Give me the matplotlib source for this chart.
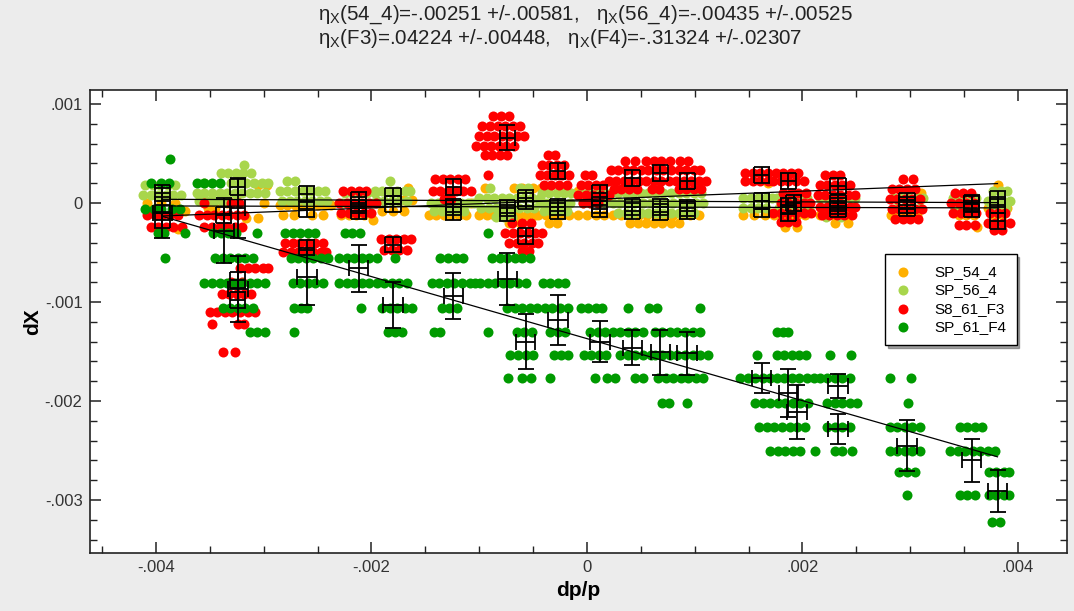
import numpy as np
import matplotlib
matplotlib.use("Agg")
import matplotlib.pyplot as plt
from matplotlib.ticker import MultipleLocator, FuncFormatter

plt.rcParams['font.family'] = ['Liberation Sans', 'DejaVu Sans']
plt.rcParams['mathtext.fontset'] = 'custom'
plt.rcParams['mathtext.rm'] = 'Liberation Sans'
plt.rcParams['mathtext.it'] = 'Liberation Sans:italic'

UNIT = 1e-3  # all values below are given in units of 1e-3 (dp/p and dX)

series_names = ['SP_54_4', 'SP_56_4', 'S8_61_F3', 'SP_61_F4']
series_colors = ['#FFB000', '#A8D64C', '#FF0000', '#009A00']

# scatter points, grouped in rows: (dX, [dp/p, ...])
sp54_rows = [
    (0.20, [1.68]),
    (0.18, [-3.05, -2.97, 3.81]),
    (0.15, [-1.66, -0.95, -0.68, -0.60, -0.50, -0.43, -0.20]),
    (0.12, [-0.08]),
    (0.10, [3.10]),
    (0.03, [-1.62, -1.70, 3.40]),
    (0.00, [-4.08, -3.95, -3.82, -3.34, -3.00, -1.08]),
    (-0.02, [-2.85, -2.78, -2.71, -2.64, -2.57, -2.50, -2.43, -2.38]),
    (-0.05, [-3.52, -3.45, 3.72, 3.90]),
    (-0.08, [-3.73, -1.90, -1.80, -1.70]),
    (-0.12, [-2.82, -2.72, -2.55, -2.45, -2.28, -2.21, -2.14, -2.07, -1.47, -1.40, -1.33,
             -1.26, -1.19, -1.12, -1.00, -0.93, -0.86, -0.63, -0.56, -0.48, -0.45, -0.38,
             -0.31, -0.24, -0.17, -0.08, 0.00, 0.08, 0.16, 0.24, 0.32, 0.40, 0.48, 0.56,
             0.64, 0.72, 0.80, 0.88, 0.96, 1.04, 1.45, 1.55, 1.65, 1.74, 1.81, 1.88, 1.95,
             2.02, 2.16, 2.23, 2.30, 2.37, 2.44, 2.82, 2.90, 2.98, 3.06, 3.45, 3.52, 3.59,
             3.78, 3.85]),
    (-0.15, [-3.16, -3.05]),
    (-0.17, [-1.99]),
    (-0.20, [-0.72, -0.62, -0.35, -0.28, 0.40, 0.47, 0.55, 0.62, 0.70, 0.78, 0.85, 2.30, 2.42]),
    (-0.24, [1.84, 1.95, 3.62]),
    (-0.26, [-3.80]),
]

sp56_rows = [
    (0.38, [-3.18]),
    (0.30, [-3.40, -3.33, -3.26, -3.19, -3.12]),
    (0.22, [-2.78, -2.71, -1.83]),
    (0.20, [-3.55, -3.30, -3.23, -3.16, -3.09, -3.02, -2.96]),
    (0.18, [-4.10, -4.03, -3.96, -3.89, -3.82]),
    (0.15, [-0.90, -0.62, -0.55]),
    (0.12, [-2.85, -2.78, -2.71, -2.64, -2.57, -2.50, -2.43, -1.97, -1.90, -1.83, -1.76,
            -1.69, -1.64, 3.77, 3.84, 3.90]),
    (0.10, [-3.62, -3.55, -3.48, -3.41, -3.34, -3.27, -3.20, -3.13, -3.06, -2.99, -2.25,
            -2.18, -2.11, -2.04, -1.97, -0.42, -0.35, -0.28, -0.21, -0.15, -0.06, 0.01,
            0.08, 0.15, 0.22, 0.29, 0.36, 0.43, 0.50, 0.57, 0.64, 0.71, 0.78, 0.85, 0.92,
            0.99, 1.06]),
    (0.08, [-4.12, -4.05, -3.98, -3.91, -3.84, -3.77]),
    (0.05, [-1.00, -0.93, -0.86, -0.79, -0.72, -0.65, -0.58, -0.51, -0.44, 1.45, 1.52,
            1.59, 1.66, 1.72, 1.76, 1.83, 1.90, 1.97, 2.04, 2.16, 2.23, 2.30, 2.37, 2.44,
            2.49, 2.85, 2.92, 2.99, 3.06, 3.12, 3.40, 3.47, 3.54, 3.61]),
    (0.02, [-3.60, -3.53, -3.46, -3.39, -3.32, -3.25, -2.83, -2.76, -2.69, -2.62, -2.55,
            -2.48, -2.41, -1.95, -1.88, -1.81, -1.74, -1.67, 3.72, 3.79, 3.86, 3.93]),
    (0.00, [-2.27, -2.20, -2.13, -2.06, -1.99, -1.45, -1.38, -1.31, -1.24, -1.17, -1.10,
            -1.05, -0.44, -0.37, -0.30, -0.23, -0.16, -0.04, 0.03, 0.10, 0.17, 0.24, 0.31,
            0.38, 0.45, 0.52, 0.59, 0.66, 0.73, 0.80, 0.87, 0.94, 1.01, 1.08]),
    (-0.05, [-0.98, -0.91, -0.84, -0.77, -0.70, -0.63, -0.56, -0.49, 1.45, 1.52, 1.59,
             1.66, 1.78, 1.85, 1.92, 1.99, 2.06, 2.18, 2.25, 2.32, 2.39, 2.46, 2.88, 2.95,
             3.02, 3.09, 3.42, 3.49, 3.56, 3.75, 3.82, 3.89]),
    (-0.08, [-1.42, -1.35, -1.28, -1.21, -1.14, -0.40, -0.33, -0.26, -0.19]),
    (-0.10, [0.29, 0.36, 0.43, 0.50, 0.57, 0.64, 0.71, 0.78, 0.85, 0.92, 0.99]),
    (-0.14, [-0.84, -0.77, -0.70, 2.22, 2.36]),
]

f3_rows = [
    (0.88, [-0.87, -0.80, -0.72]),
    (0.78, [-0.97, -0.90, -0.83, -0.76, -0.69, -0.62]),
    (0.68, [-1.00, -0.93, -0.86, -0.79, -0.72, -0.65, -0.58]),
    (0.58, [-1.03, -0.96, -0.89, -0.82, -0.75, -0.68]),
    (0.48, [-0.95, -0.88, -0.81, -0.74, -0.36, -0.30]),
    (0.42, [0.35, 0.45, 0.55, 0.62, 0.69, 0.77, 0.86, 0.94]),
    (0.38, [-0.42, -0.35, -0.28, -0.21]),
    (0.33, [0.22, 0.29, 0.36, 0.43, 0.50, 0.57, 0.64, 0.71, 0.78, 0.85, 0.92, 0.99, 1.05]),
    (0.30, [1.47, 1.54, 1.61, 1.68, 1.75, 1.82, 1.89, 1.96]),
    (0.28, [-0.92, -0.44, -0.37, -0.30, -0.23, -0.17, -0.02, 0.05, 2.21, 2.28, 2.35]),
    (0.24, [-1.41, -1.34, -1.27, -1.20, -1.13, 2.93, 3.03]),
    (0.22, [0.20, 0.27, 0.34, 0.41, 0.48, 0.55, 0.62, 0.69, 0.76, 0.83, 0.90, 0.97, 1.04,
            1.10, 1.47, 1.54, 1.61, 1.68, 1.73, 1.80, 1.87, 1.94, 2.01]),
    (0.18, [-0.40, -0.33, -0.26, -0.19, -0.06, 0.01, 0.08, 0.15, 2.16, 2.23, 2.30, 2.37, 2.44]),
    (0.14, [0.25, 0.32, 0.39, 0.46, 0.60, 0.67, 0.85, 0.92, 0.99, 1.06, 2.83, 2.90, 2.97, 3.04]),
    (0.12, [-2.26, -2.19, -2.12, -2.05, -1.43, -1.36, -1.29, -1.22, -1.15, -1.08]),
    (0.10, [1.82, 1.89, 1.96, 2.03, 3.42, 3.49, 3.56]),
    (0.08, [-0.08, -0.01, 0.06, 0.13, 0.20, 2.14, 2.21, 2.28, 2.35, 2.42, 2.49]),
    (0.04, [-1.33, -1.26, 2.81, 2.88, 2.95, 3.02, 3.09]),
    (0.00, [-3.55, -3.30, -3.23, -2.30, -2.23, -2.16, -2.09, -2.02, -1.96, -0.04, 0.03,
            0.10, 1.80, 1.87, 1.94, 2.01, 2.07, 3.38, 3.45, 3.52, 3.59]),
    (-0.04, [2.16, 2.23, 2.30, 2.37, 2.44, 2.49]),
    (-0.06, [2.83, 2.90, 2.97, 3.04, 3.11]),
    (-0.10, [-2.28, -2.21, -2.14, -2.07, -2.00, 1.73, 1.80, 1.87, 1.94, 2.01, 2.08, 3.40,
             3.47, 3.54, 3.61, 3.74, 3.81, 3.88]),
    (-0.12, [-4.08, -4.01, -3.94, -3.87, -3.80, -3.60, -3.53, -3.46, -3.39, -3.32, -3.25,
             -3.18, 2.18, 2.25, 2.32, 2.39, 2.46]),
    (-0.16, [2.86, 2.93, 3.00, 3.07]),
    (-0.19, [1.80, 1.87, 1.94]),
    (-0.20, [-0.70, -0.60, -0.52, 3.72, 3.79, 3.86, 3.93]),
    (-0.22, [3.45, 3.52, 3.60]),
    (-0.24, [-4.05, -3.98, -3.91, -3.84, -3.76, -3.55, -3.48, -3.41, -3.34, -3.27, -3.20]),
    (-0.27, [3.78, 3.85]),
    (-0.30, [-0.76, -0.69, -0.62, -0.55, -0.48, -0.42]),
    (-0.36, [-1.91, -1.84, -1.77, -1.70, -1.63]),
    (-0.40, [-2.80, -2.73, -2.66, -2.59, -2.52, -2.45, -0.72, -0.65, -0.58, -0.51, -0.45]),
    (-0.47, [-1.88, -1.81, -1.74, -1.67]),
    (-0.49, [-0.60, -0.54]),
    (-0.50, [-2.82, -2.75, -2.68, -2.61, -2.54, -2.47, -2.42]),
    (-0.66, [-3.22, -3.15, -3.08, -3.01, -2.96]),
    (-0.80, [-3.30, -3.20]),
    (-0.92, [-3.39, -3.32, -3.25, -3.18, -3.12]),
    (-1.10, [-3.50, -3.43, -3.36, -3.29, -3.22, -3.15, -3.08]),
    (-1.22, [-3.48, -3.24, -3.18]),
    (-1.51, [-3.38, -3.27]),
]

f4_rows = [
    (0.44, [-3.87]),
    (0.20, [-4.05, -3.95, -3.88, -3.62, -3.55, -3.48, -3.41]),
    (-0.06, [-4.10, -4.02, -3.95, -3.85, -3.78]),
    (-0.30, [-3.98, -3.93, -3.73, -3.47, -3.40, -3.33, -3.26, -3.06, -2.80, -2.73, -2.66,
             -2.59, -2.52, -2.25, -2.18, -2.11, -0.92]),
    (-0.56, [-3.92, -3.45, -3.38, -3.31, -3.24, -3.17, -3.10, -2.75, -2.68, -2.61, -2.54,
             -2.47, -2.40, -2.30, -2.23, -2.16, -2.09, -2.02, -1.95, -1.78, -1.36, -1.29,
             -1.22, -1.15, -0.88, -0.81, -0.74, -0.67, -0.60, -0.53]),
    (-0.81, [-3.55, -3.48, -3.41, -3.34, -3.27, -3.20, -3.13, -3.06, -2.99, -2.73, -2.66,
             -2.59, -2.52, -2.45, -2.30, -2.23, -2.16, -2.09, -2.02, -1.95, -1.88, -1.81,
             -1.74, -1.67, -1.44, -1.37, -1.30, -1.23, -1.16, -1.09, -1.04, -0.99, -0.92,
             -0.85, -0.78, -0.71, -0.64, -0.57, -0.41, -0.34, -0.27, -0.20]),
    (-1.06, [-3.38, -3.31, -3.24, -3.17, -3.10, -2.72, -2.65, -2.60, -2.10, -1.90, -1.83,
             -1.76, -1.69, -1.62, -1.35, -1.28, -1.21, -0.74, -0.67, -0.60, -0.53, -0.46,
             -0.39, -0.32, -0.25, -0.18, -0.06, 0.01, 0.08, 0.14, 0.38, 0.58, 0.65, 1.05]),
    (-1.30, [-3.13, -3.06, -2.99, -2.72, -1.85, -1.78, -1.72, -1.42, -1.36, -0.92, -0.65,
             -0.58, -0.51, -0.34, -0.27, -0.20, 0.03, 0.10, 0.17, 0.24, 0.31, 0.38, 0.45,
             0.52, 0.63, 0.70, 0.77, 0.84, 0.91, 0.98, 1.05, 1.76, 1.82, 1.87]),
    (-1.54, [-0.71, -0.64, -0.57, -0.50, -0.31, -0.24, -0.18, -0.03, 0.04, 0.11, 0.18,
             0.31, 0.38, 0.45, 0.52, 0.59, 0.63, 0.70, 0.77, 0.84, 0.91, 0.98, 1.05, 1.12,
             1.58, 1.76, 1.83, 1.90, 1.97, 2.03, 2.26, 2.45]),
    (-1.77, [-0.73, -0.60, -0.52, -0.34, 0.07, 0.19, 0.26, 0.45, 0.52, 0.66, 0.73, 0.80,
             0.87, 0.94, 1.01, 1.08, 1.42, 1.49, 1.56, 1.63, 1.70, 1.76, 1.83, 1.90, 1.97,
             2.04, 2.11, 2.16, 2.23, 2.30, 2.37, 2.44, 2.81, 3.01]),
    (-2.02, [0.70, 0.76, 0.93, 1.56, 1.63, 1.70, 1.77, 1.84, 1.91, 1.98, 2.05, 2.23, 2.30,
             2.37, 2.44, 2.51, 2.98]),
    (-2.26, [1.60, 1.67, 1.74, 1.81, 1.88, 1.95, 2.02, 2.23, 2.30, 2.37, 2.44, 2.81, 2.88,
             2.95, 3.02, 3.09, 3.46, 3.53, 3.60, 3.67]),
    (-2.50, [1.70, 1.77, 1.84, 1.91, 1.98, 2.12, 2.30, 2.37, 2.46, 2.81, 2.88, 2.95, 3.02,
             3.09, 3.37, 3.44, 3.51, 3.58, 3.65, 3.72, 3.79]),
    (-2.72, [2.90, 2.97, 3.04, 3.73, 3.80, 3.87, 3.92]),
    (-2.95, [2.97, 3.46, 3.53, 3.60, 3.73, 3.80, 3.87, 3.92]),
    (-3.22, [3.76, 3.83]),
]

# binned means with errors (dp/p, dX, err dp/p, err dX)
sp54_bin_x = [-3.94, -3.24, -2.60, -2.12, -1.80, -1.24, -0.74, -0.57, -0.27, 0.12, 0.42,
              0.68, 0.93, 1.62, 1.87, 2.33, 2.97, 3.57, 3.81]
sp54_bin_y = [-0.02, -0.05, -0.06, -0.08, -0.01, -0.09, -0.05, 0.02, -0.08, -0.06, -0.08,
              -0.09, -0.08, -0.06, -0.10, -0.06, -0.05, -0.06, -0.02]
sp54_bin_xerr = [0.07] * 19
sp54_bin_yerr = [0.08, 0.30, 0.08, 0.08, 0.08, 0.08, 0.08, 0.08, 0.08, 0.08, 0.08, 0.08,
                 0.08, 0.08, 0.08, 0.08, 0.08, 0.08, 0.08]

sp56_bin_x = [-3.94, -3.24, -2.60, -2.12, -1.80, -1.24, -0.74, -0.57, -0.27, 0.12, 0.42,
              0.68, 0.93, 1.62, 1.87, 2.33, 2.97, 3.57, 3.81]
sp56_bin_y = [0.10, 0.16, 0.09, 0.03, 0.07, -0.04, -0.10, 0.05, -0.04, -0.02, -0.04, -0.04,
              -0.05, 0.02, -0.03, 0.00, -0.02, -0.01, 0.04]
sp56_bin_xerr = [0.07] * 19
sp56_bin_yerr = [0.08] * 19

f3_bin_x = [-3.94, -3.37, -3.24, -3.24, -2.60, -2.12, -1.80, -1.24, -0.74, -0.57, -0.27,
            0.12, 0.42, 0.68, 0.93, 1.62, 1.87, 1.92, 2.33, 2.33, 2.97, 3.57, 3.81]
f3_bin_y = [-0.17, -0.12, -0.78, -0.98, -0.45, -0.02, -0.42, 0.16, 0.66, -0.33, 0.32, 0.10,
            0.25, 0.30, 0.22, 0.28, 0.22, 0.00, 0.17, -0.03, 0.02, 0.00, -0.18]
f3_bin_xerr = [0.07] * 23
f3_bin_yerr = [0.08, 0.08, 0.08, 0.08, 0.08, 0.08, 0.08, 0.08, 0.13, 0.08, 0.08, 0.08,
               0.08, 0.08, 0.08, 0.08, 0.08, 0.08, 0.08, 0.08, 0.08, 0.08, 0.08]

f4_bin_x = [-3.94, -3.37, -3.24, -2.60, -2.12, -1.80, -1.24, -0.74, -0.57, -0.27, 0.12,
            0.42, 0.68, 0.93, 1.62, 1.87, 1.95, 2.33, 2.33, 2.97, 3.57, 3.81]
f4_bin_y = [-0.10, -0.28, -0.87, -0.75, -0.66, -1.03, -0.94, -0.77, -1.40, -1.18, -1.40,
            -1.46, -1.51, -1.52, -1.77, -1.92, -2.11, -1.85, -2.28, -2.45, -2.60, -2.91]
f4_bin_xerr = [0.09] * 22
f4_bin_yerr = [0.25, 0.33, 0.33, 0.28, 0.24, 0.23, 0.23, 0.26, 0.28, 0.25, 0.21, 0.18,
               0.23, 0.22, 0.15, 0.24, 0.27, 0.12, 0.15, 0.26, 0.22, 0.21]

# linear fits dX = offset + eta * dp/p
fit_eta = [-0.00251, -0.00435, 0.04224, -0.31324]
fit_eta_err = [0.00581, 0.00525, 0.00448, 0.02307]
fit_offset = [-0.04, 0.02, 0.035, -1.37]          # in units of 1e-3
fit_range = [-3.94, 3.81]                          # in units of 1e-3
fit_tags = ['54_4', '56_4', 'F3', 'F4']

x_ticks = [-4, -2, 0, 2, 4]
y_ticks = [1, 0, -1, -2, -3]


def flatten(rows):
    xs, ys = [], []
    for y, xl in rows:
        for x in xl:
            xs.append(x)
            ys.append(y)
    return np.array(xs) * UNIT, np.array(ys) * UNIT


def short(v):
    s = f"{v:.5f}"
    return s.replace("0.", ".", 1)


def tickfmt(v, pos):
    if abs(v) < 1e-12:
        return "0"
    return f"{v:.3f}".replace("0.", ".", 1)


W, H = 1074, 611
fig = plt.figure(figsize=(W / 100, H / 100), dpi=100, facecolor='#ECECEC')
ax = fig.add_axes([89.5 / W, 1 - 553 / H, (1067 - 89.5) / W, (553 - 90) / H])
ax.set_facecolor('white')

all_rows = [sp54_rows, sp56_rows, f3_rows, f4_rows]
handles = []
for rows, c, name in zip(all_rows, series_colors, series_names):
    xs, ys = flatten(rows)
    h = ax.scatter(xs, ys, s=52, color=c, linewidths=0, zorder=2, label=name)
    handles.append(h)

# fit lines
xr = np.array(fit_range) * UNIT
for eta, off in zip(fit_eta, fit_offset):
    ax.plot(xr, (off * UNIT + eta * xr), color='black', lw=0.9, zorder=3)

bins = [
    (sp54_bin_x, sp54_bin_y, sp54_bin_xerr, sp54_bin_yerr),
    (sp56_bin_x, sp56_bin_y, sp56_bin_xerr, sp56_bin_yerr),
    (f3_bin_x, f3_bin_y, f3_bin_xerr, f3_bin_yerr),
    (f4_bin_x, f4_bin_y, f4_bin_xerr, f4_bin_yerr),
]
for bx, by, bxe, bye in bins:
    ax.errorbar(np.array(bx) * UNIT, np.array(by) * UNIT,
                xerr=np.array(bxe) * UNIT, yerr=np.array(bye) * UNIT,
                fmt='none', ecolor='black', elinewidth=1.3, capsize=5.5,
                capthick=1.3, zorder=4)

ax.set_xlim(-4.617 * UNIT, 4.455 * UNIT)
ax.set_ylim(-3.535 * UNIT, 1.141 * UNIT)
ax.set_xticks(np.array(x_ticks) * UNIT)
ax.set_yticks(np.array(y_ticks) * UNIT)
ax.xaxis.set_minor_locator(MultipleLocator(0.5 * UNIT))
ax.yaxis.set_minor_locator(MultipleLocator(0.2 * UNIT))
ax.xaxis.set_major_formatter(FuncFormatter(tickfmt))
ax.yaxis.set_major_formatter(FuncFormatter(tickfmt))
ax.tick_params(which='both', direction='in', top=True, right=True, colors='#222222',
               labelcolor='#333333', labelsize=12)
ax.tick_params(which='major', length=8, width=1.1, pad=5)
ax.tick_params(which='minor', length=5, width=1.0)
for sp in ax.spines.values():
    sp.set_linewidth(1.2)
    sp.set_color('#222222')

ax.set_xlabel('dp/p', fontsize=15, fontweight='bold', labelpad=4)
ax.set_ylabel('dX', fontsize=15, fontweight='bold', labelpad=2)

eta_x = r'η$_{\rm X}$'
line1 = (f"{eta_x}({fit_tags[0]})={short(fit_eta[0])} +/-{short(fit_eta_err[0])},   "
         f"{eta_x}({fit_tags[1]})={short(fit_eta[1])} +/-{short(fit_eta_err[1])}")
line2 = (f"{eta_x}({fit_tags[2]})={short(fit_eta[2])} +/-{short(fit_eta_err[2])},   "
         f"{eta_x}({fit_tags[3]})={short(fit_eta[3])} +/-{short(fit_eta_err[3])}")
fig.text(318 / W, 1 - 15 / H, line1, fontsize=14.8, ha='left', va='center', color='#222222')
fig.text(318 / W, 1 - 39 / H, line2, fontsize=14.8, ha='left', va='center', color='#222222')

leg = ax.legend(handles=handles, loc='upper left',
                bbox_to_anchor=(885 / W, 1 - 254 / H), bbox_transform=fig.transFigure,
                frameon=True, fancybox=False, shadow=True, framealpha=1,
                edgecolor='black', fontsize=11, borderpad=0.7, labelspacing=0.3,
                handletextpad=1.5, handlelength=1.0, scatterpoints=1, borderaxespad=0)
leg.get_frame().set_linewidth(1.0)
leg.set_zorder(10)

fig.savefig('out.png', dpi=100, facecolor=fig.get_facecolor())
